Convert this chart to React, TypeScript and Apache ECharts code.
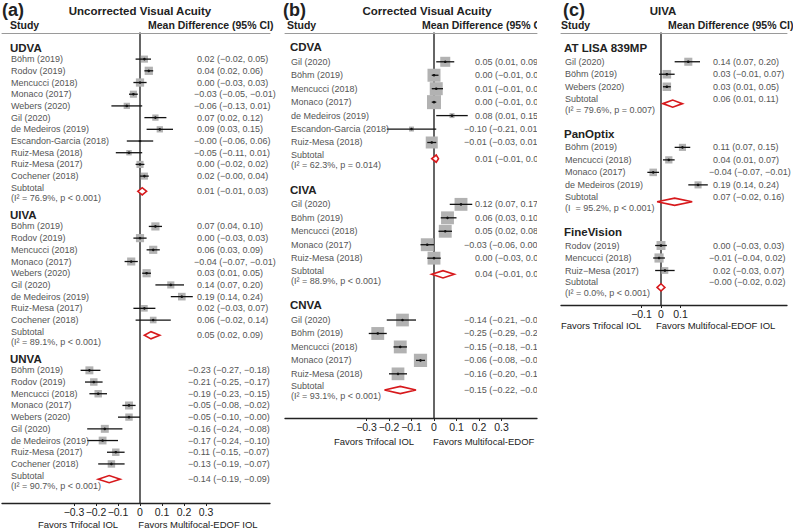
import React, { useEffect, useRef } from "react";
import * as echarts from "echarts";

// ---------------- (a) Uncorrected Visual Acuity ----------------
const udvaStudies = ["Böhm (2019)", "Rodov (2019)", "Mencucci (2018)", "Monaco (2017)", "Webers (2020)", "Gil (2020)", "de Medeiros (2019)", "Escandon-Garcia (2018)", "Ruiz-Mesa (2018)", "Ruiz-Mesa (2017)", "Cochener (2018)"];
const udvaMD = [0.02, 0.04, 0.0, -0.03, -0.06, 0.07, 0.09, -0, -0.05, 0.0, 0.02];
const udvaLow = [-0.02, 0.02, -0.03, -0.05, -0.13, 0.02, 0.03, -0.06, -0.11, -0.02, -0];
const udvaHigh = [0.05, 0.06, 0.03, -0.01, 0.01, 0.12, 0.15, 0.06, 0.01, 0.02, 0.04];
const udvaWeight = [9.5, 12.9, 12.9, 9.5, 7.5, 7.5, 7.5, 1.1, 5.6, 9.5, 9.5];
const udvaSubtotal = [0.01, -0.01, 0.03];
const udvaHet = "(I² = 76.9%, p < 0.001)";

const uivaStudies = ["Böhm (2019)", "Rodov (2019)", "Mencucci (2018)", "Monaco (2017)", "Webers (2020)", "Gil (2020)", "de Medeiros (2019)", "Ruiz-Mesa (2017)", "Cochener (2018)"];
const uivaMD = [0.07, 0.0, 0.06, -0.04, 0.03, 0.14, 0.19, 0.02, 0.06];
const uivaLow = [0.04, -0.03, 0.03, -0.07, 0.01, 0.07, 0.14, -0.03, -0.02];
const uivaHigh = [0.1, 0.03, 0.09, -0.01, 0.05, 0.2, 0.24, 0.07, 0.14];
const uivaWeight = [12.6, 12.6, 12.6, 12.6, 12.6, 9.6, 11.0, 8.3, 8.3];
const uivaSubtotal = [0.05, 0.02, 0.09];
const uivaHet = "(I² = 89.1%, p < 0.001)";

const unvaStudies = ["Böhm (2019)", "Rodov (2019)", "Mencucci (2018)", "Monaco (2017)", "Webers (2020)", "Gil (2020)", "de Medeiros (2019)", "Ruiz-Mesa (2017)", "Cochener (2018)"];
const unvaMD = [-0.23, -0.21, -0.19, -0.05, -0.05, -0.16, -0.17, -0.11, -0.13];
const unvaLow = [-0.27, -0.25, -0.23, -0.08, -0.1, -0.24, -0.24, -0.15, -0.19];
const unvaHigh = [-0.18, -0.17, -0.15, -0.02, -0, -0.08, -0.1, -0.07, -0.07];
const unvaWeight = [12.0, 10.5, 10.5, 12.0, 10.5, 12.0, 11.5, 10.5, 10.5];
const unvaSubtotal = [-0.14, -0.19, -0.09];
const unvaHet = "(I² = 90.7%, p < 0.001)";

// ---------------- (b) Corrected Visual Acuity ----------------
const cdvaStudies = ["Gil (2020)", "Böhm (2019)", "Mencucci (2018)", "Monaco (2017)", "de Medeiros (2019)", "Escandon-Garcia (2018)", "Ruiz-Mesa (2018)"];
const cdvaMD = [0.05, 0.0, 0.01, 0.0, 0.08, -0.1, -0.01];
const cdvaLow = [0.01, -0.01, -0.01, -0.01, 0.01, -0.21, -0.03];
const cdvaHigh = [0.09, 0.02, 0.04, 0.01, 0.15, 0.01, 0.01];
const cdvaWeight = [12.1, 20.4, 20.4, 23.7, 3.0, 3.0, 17.4];
const cdvaSubtotal = [0.01, -0.01, 0.02];
const cdvaHet = "(I² = 62.3%, p = 0.014)";

const civaStudies = ["Gil (2020)", "Böhm (2019)", "Mencucci (2018)", "Monaco (2017)", "Ruiz-Mesa (2018)"];
const civaMD = [0.12, 0.06, 0.05, -0.03, 0.0];
const civaLow = [0.07, 0.03, 0.02, -0.06, -0.03];
const civaHigh = [0.17, 0.1, 0.08, 0.0, 0.03];
const civaWeight = [20, 20, 20, 20, 20];
const civaSubtotal = [0.04, -0.01, 0.09];
const civaHet = "(I² = 88.9%, p < 0.001)";

const cnvaStudies = ["Gil (2020)", "Böhm (2019)", "Mencucci (2018)", "Monaco (2017)", "Ruiz-Mesa (2018)"];
const cnvaMD = [-0.14, -0.25, -0.15, -0.06, -0.16];
const cnvaLow = [-0.21, -0.29, -0.18, -0.08, -0.2];
const cnvaHigh = [-0.08, -0.21, -0.12, -0.04, -0.12];
const cnvaWeight = [19.5, 20, 20, 21, 19.5];
const cnvaSubtotal = [-0.15, -0.22, -0.08];
const cnvaHet = "(I² = 93.1%, p < 0.001)";

// ---------------- (c) UIVA by lens ----------------
const lisaStudies = ["Gil (2020)", "Böhm (2019)", "Webers (2020)"];
const lisaMD = [0.14, 0.03, 0.03];
const lisaLow = [0.07, -0.01, 0.01];
const lisaHigh = [0.2, 0.07, 0.05];
const lisaWeight = [31, 35, 34];
const lisaSubtotal = [0.06, 0.01, 0.11];
const lisaHet = "(I² = 79.6%, p = 0.007)";

const panopStudies = ["Böhm (2019)", "Mencucci (2018)", "Monaco (2017)", "de Medeiros (2019)"];
const panopMD = [0.11, 0.04, -0.04, 0.19];
const panopLow = [0.07, 0.01, -0.07, 0.14];
const panopHigh = [0.15, 0.07, -0.01, 0.24];
const panopWeight = [24, 25, 27, 24];
const panopSubtotal = [0.07, -0.02, 0.16];
const panopHet = "(I  = 95.2%, p < 0.001)";

const fineStudies = ["Rodov (2019)", "Mencucci (2018)", "Ruiz\u2212Mesa (2017)"];
const fineMD = [0.0, -0.01, 0.02];
const fineLow = [-0.03, -0.04, -0.03];
const fineHigh = [0.03, 0.02, 0.07];
const fineWeight = [38, 40, 22];
const fineSubtotal = [-0, -0.02, 0.02];
const fineHet = "(I² = 0.0%, p < 0.001)";

const ticksAB = [-0.3, -0.2, -0.1, 0, 0.1, 0.2, 0.3];
const ticksC = [-0.1, 0, 0.1];

const FONT = '"Liberation Sans", Arial, Helvetica, sans-serif';

type Section = {
  title: string; studies: string[]; md: number[]; lo: number[]; hi: number[]; wt: number[];
  sub: number[]; het: string; ciDx?: number;
};

const sectionsA: Section[] = [
  { title: "UDVA", studies: udvaStudies, md: udvaMD, lo: udvaLow, hi: udvaHigh, wt: udvaWeight, sub: udvaSubtotal, het: udvaHet },
  { title: "UIVA", studies: uivaStudies, md: uivaMD, lo: uivaLow, hi: uivaHigh, wt: uivaWeight, sub: uivaSubtotal, het: uivaHet },
  { title: "UNVA", studies: unvaStudies, md: unvaMD, lo: unvaLow, hi: unvaHigh, wt: unvaWeight, sub: unvaSubtotal, het: unvaHet, ciDx: -6 },
];
const sectionsB: Section[] = [
  { title: "CDVA", studies: cdvaStudies, md: cdvaMD, lo: cdvaLow, hi: cdvaHigh, wt: cdvaWeight, sub: cdvaSubtotal, het: cdvaHet },
  { title: "CIVA", studies: civaStudies, md: civaMD, lo: civaLow, hi: civaHigh, wt: civaWeight, sub: civaSubtotal, het: civaHet },
  { title: "CNVA", studies: cnvaStudies, md: cnvaMD, lo: cnvaLow, hi: cnvaHigh, wt: cnvaWeight, sub: cnvaSubtotal, het: cnvaHet },
];
const sectionsC: Section[] = [
  { title: "AT LISA 839MP", studies: lisaStudies, md: lisaMD, lo: lisaLow, hi: lisaHigh, wt: lisaWeight, sub: lisaSubtotal, het: lisaHet },
  { title: "PanOptix", studies: panopStudies, md: panopMD, lo: panopLow, hi: panopHigh, wt: panopWeight, sub: panopSubtotal, het: panopHet },
  { title: "FineVision", studies: fineStudies, md: fineMD, lo: fineLow, hi: fineHigh, wt: fineWeight, sub: fineSubtotal, het: fineHet },
];

// layout (pixels / row units)
const panels = [
  { sections: sectionsA, ticks: ticksAB, left: 2, top: 33, width: 268, height: 470, zeroX: 140, pxPer: 220,
    rowY0: 48, unit: 11.7, hGap: 0.95, sGap: 1.3, nGap: 2.05, k: 2.3, nameX: 10, ciX: 197, negShift: 3, clip: false,
    subDy: [-3.5, 6.5], subCiDy: 0 },
  { sections: sectionsB, ticks: ticksAB, left: 285, top: 33, width: 252, height: 385, zeroX: 434, pxPer: 225,
    rowY0: 47, unit: 13.45, hGap: 1.1, sGap: 1.2, nGap: 2.3, k: 2.88, nameX: 290, ciX: 475, negShift: 11, clip: true,
    subDy: [-3.5, 6.5], subCiDy: 0 },
  { sections: sectionsC, ticks: ticksC, left: 561, top: 33, width: 226, height: 272, zeroX: 661, pxPer: 195,
    rowY0: 48, unit: 12.5, hGap: 1.1, sGap: 1.35, nGap: 2.4, k: 1.45, nameX: 564, ciX: 713, negShift: 4, clip: false,
    subDy: [-5, 6], subCiDy: -5 },
];

type Row = { kind: "header" | "study" | "subtotal"; u: number; text: string; md: number; lo: number; hi: number; wt: number; het?: string; ciDx: number };

function buildRows(P: typeof panels[number]): Row[] {
  const rows: Row[] = [];
  let u = 0;
  P.sections.forEach((s, si) => {
    if (si > 0) u += P.nGap;
    rows.push({ kind: "header", u, text: s.title, md: 0, lo: 0, hi: 0, wt: 0, ciDx: 0 });
    u += P.hGap;
    s.studies.forEach((name, i) => {
      if (i > 0) u += 1;
      rows.push({ kind: "study", u, text: name, md: s.md[i], lo: s.lo[i], hi: s.hi[i], wt: s.wt[i], ciDx: s.ciDx || 0 });
    });
    u += P.sGap;
    rows.push({ kind: "subtotal", u, text: "Subtotal", md: s.sub[0], lo: s.sub[1], hi: s.sub[2], wt: 0, het: s.het, ciDx: s.ciDx || 0 });
  });
  return rows;
}

const fmt = (v: number) => (v < 0 || Object.is(v, -0) ? "\u2212" : "") + Math.abs(v).toFixed(2);
const ciText = (m: number, l: number, h: number) => `${fmt(m)} (${fmt(l)}, ${fmt(h)})`;
const tickFmt = (v: number) => (v < 0 ? "\u2212" + String(Math.abs(v)) : String(v));

function buildOption() {
  const grid: any[] = [];
  const xAxis: any[] = [];
  const yAxis: any[] = [];
  const series: any[] = [];

  panels.forEach((P, i) => {
    grid.push({ left: P.left, top: P.top, width: P.width, height: P.height, containLabel: false });
    const xmin = -(P.zeroX - P.left) / P.pxPer;
    const xmax = (P.left + P.width - P.zeroX) / P.pxPer;
    xAxis.push({
      type: "value", gridIndex: i, position: "bottom", min: xmin, max: xmax,
      axisLine: { show: true, onZero: false, lineStyle: { color: "#222", width: 1.3 } },
      axisTick: { show: true, length: 3, customValues: P.ticks, lineStyle: { color: "#222", width: 1 } },
      axisLabel: { customValues: P.ticks, formatter: tickFmt, margin: 3, fontSize: 10.5, color: "#222", fontFamily: FONT },
      splitLine: { show: false },
    });
    xAxis.push({
      type: "value", gridIndex: i, position: "top", min: xmin, max: xmax,
      axisLine: { show: true, onZero: false, lineStyle: { color: "#9a9a9a", width: 1 } },
      axisTick: { show: false }, axisLabel: { show: false }, splitLine: { show: false },
    });
    yAxis.push({
      type: "value", gridIndex: i, inverse: true,
      min: (P.top - P.rowY0) / P.unit, max: (P.top + P.height - P.rowY0) / P.unit,
      axisLine: { show: true, onZero: true, onZeroAxisIndex: 2 * i, lineStyle: { color: "#333", width: 1.5 } },
      axisTick: { show: false }, axisLabel: { show: false }, splitLine: { show: false },
    });

    const rows = buildRows(P);
    series.push({
      type: "custom",
      xAxisIndex: 2 * i,
      yAxisIndex: i,
      clip: P.clip,
      silent: true,
      encode: { x: [0, 1, 2], y: 3 },
      data: rows.map((r) => [r.md, r.lo, r.hi, r.u]),
      renderItem: (params: any, api: any) => {
        const r = rows[params.dataIndex];
        const y = api.coord([0, api.value(3)])[1];
        const children: any[] = [];
        const txt = (text: string, x: number, yy: number, font: string, fill: string) => ({
          type: "text", x, y: yy, silent: true,
          style: { text, font, fill, align: "left", verticalAlign: "middle" },
        });
        const ciLabel = (m: number, l: number, h: number, yy: number) => {
          const t = ciText(m, l, h);
          const neg = t.charAt(0) === "\u2212";
          const cx = P.ciX + r.ciDx - (neg ? P.negShift : 0);
          return txt(t, cx, yy, `9px ${FONT}`, "#555");
        };
        if (r.kind === "header") {
          children.push(txt(r.text, P.nameX, y, `bold 11.5px ${FONT}`, "#222"));
        } else if (r.kind === "study") {
          const xm = api.coord([api.value(0), r.u])[0];
          const xl = api.coord([api.value(1), r.u])[0];
          const xh = api.coord([api.value(2), r.u])[0];
          const s = P.k * Math.sqrt(r.wt);
          children.push({ type: "rect", shape: { x: xm - s / 2, y: y - s / 2, width: s, height: s }, style: { fill: "#b2b2b2" } });
          children.push({ type: "line", shape: { x1: xl, y1: y, x2: xh, y2: y }, style: { stroke: "#111", lineWidth: 1.3 } });
          children.push({ type: "circle", shape: { cx: xm, cy: y, r: 1.3 }, style: { fill: "#111" } });
          children.push(txt(r.text, P.nameX + 1, y, `9px ${FONT}`, "#555"));
          children.push(ciLabel(r.md, r.lo, r.hi, y));
        } else {
          const xm = api.coord([api.value(0), r.u])[0];
          const xl = api.coord([api.value(1), r.u])[0];
          const xh = api.coord([api.value(2), r.u])[0];
          const h = 3.6;
          children.push({
            type: "polygon",
            shape: { points: [[xl, y], [xm, y - h], [xh, y], [xm, y + h]] },
            style: { fill: "#fff", stroke: "#d7191c", lineWidth: 1.6 },
          });
          children.push(txt("Subtotal", P.nameX + 1, y + P.subDy[0], `9px ${FONT}`, "#555"));
          children.push(txt(r.het || "", P.nameX + 1, y + P.subDy[1], `9px ${FONT}`, "#555"));
          children.push(ciLabel(r.md, r.lo, r.hi, y + P.subCiDy));
        }
        return { type: "group", children };
      },
    });
  });

  const t = (text: string, x: number, y: number, font: string, align = "left") => ({
    type: "text", x, y, silent: true, z: 1,
    style: { text, font, fill: "#222", align, verticalAlign: "middle" },
  });
  const cover = (x: number, y: number, w: number, h: number) => ({
    type: "rect", silent: true, z: 5, shape: { x, y, width: w, height: h }, style: { fill: "#fff" },
  });
  const graphic: any[] = [
    // panel a
    t("(a)", 2, 10, `bold 18px ${FONT}`),
    t("Uncorrected Visual Acuity", 140, 11, `bold 11.5px ${FONT}`, "center"),
    t("Study", 10, 25, `bold 10.5px ${FONT}`),
    t("Mean Difference (95% CI)", 148, 25, `bold 10.5px ${FONT}`),
    t("Favors Trifocal IOL", 78, 524, `9.5px ${FONT}`, "center"),
    t("Favors Multifocal-EDOF IOL", 198, 524, `9.5px ${FONT}`, "center"),
    // panel b
    t("(b)", 283, 10, `bold 18px ${FONT}`),
    t("Corrected Visual Acuity", 427, 11, `bold 11.5px ${FONT}`, "center"),
    t("Study", 287, 25, `bold 10.5px ${FONT}`),
    t("Mean Difference (95% CI)", 422, 25, `bold 10.5px ${FONT}`),
    t("Favors Trifocal IOL", 374, 441, `9.5px ${FONT}`, "center"),
    t("Favors Multifocal-EDOF IOL", 433, 441, `9.5px ${FONT}`),
    // panel c covers what lies under it
    cover(537, 15, 22, 17),
    cover(537, 432, 120, 18),
    // panel c
    t("(c)", 563, 10, `bold 18px ${FONT}`),
    t("UIVA", 663, 11, `bold 11.5px ${FONT}`, "center"),
    t("Study", 561, 25, `bold 10.5px ${FONT}`),
    t("Mean Difference (95% CI)", 668, 25, `bold 10.5px ${FONT}`),
    t("Favors Trifocal IOL", 561, 325, `9.5px ${FONT}`),
    t("Favors Multifocal-EDOF IOL", 656, 325, `9.5px ${FONT}`),
  ];

  return { animation: false, backgroundColor: "#fff", grid, xAxis, yAxis, series, graphic };
}

export default function App() {
  const ref = useRef<HTMLDivElement>(null);
  useEffect(() => {
    if (!ref.current) return;
    const chart = echarts.init(ref.current, undefined, { renderer: "svg" });
    chart.setOption(buildOption() as any);
    return () => chart.dispose();
  }, []);
  return <div ref={ref} style={{ position: "fixed", left: 0, top: 0, width: 793, height: 532, background: "#fff" }} />;
}
